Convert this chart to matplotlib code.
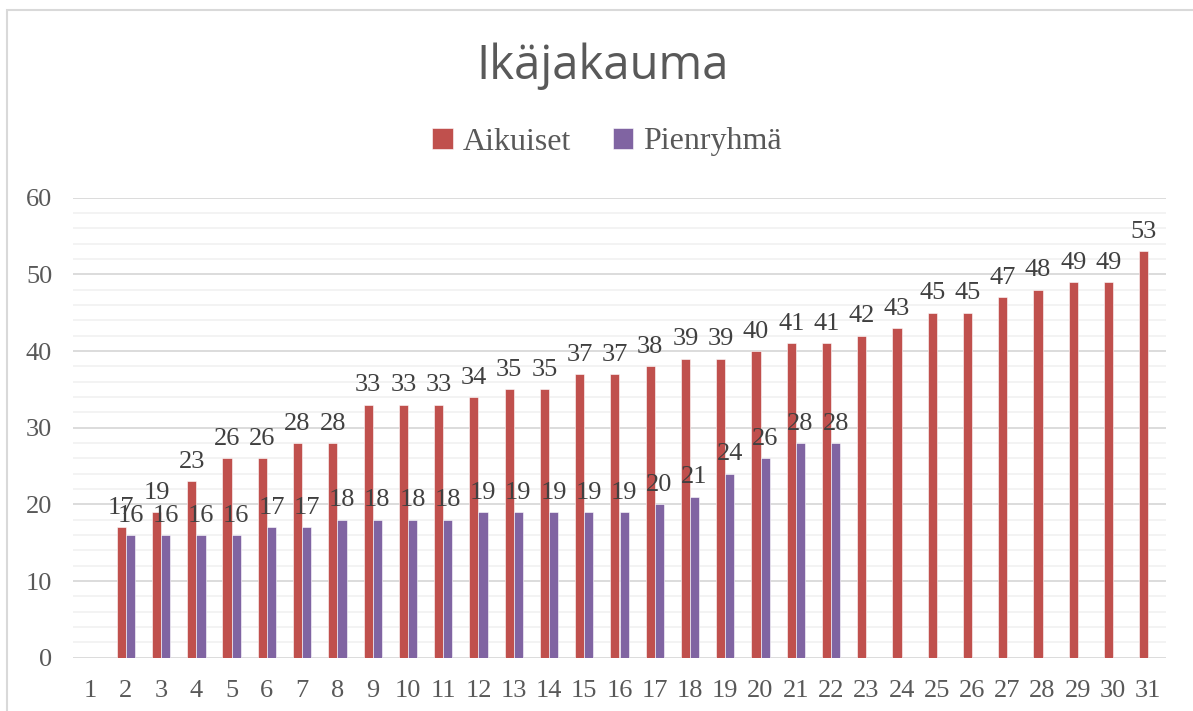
import numpy as np
import matplotlib
matplotlib.use('Agg')
import matplotlib.pyplot as plt
from matplotlib.patches import Rectangle

# categories 1..31, 1 has no data
categories = list(range(1, 32))
aikuiset = [None, 17, 19, 23, 26, 26, 28, 28, 33, 33, 33, 34, 35, 35, 37, 37, 38, 39, 39, 40,
            41, 41, 42, 43, 45, 45, 47, 48, 49, 49, 53]
pienryhma = [None, 16, 16, 16, 16, 17, 17, 18, 18, 18, 18, 19, 19, 19, 19, 19, 20, 21, 24, 26,
             28, 28] + [None] * 9
series_names = ['Aikuiset', 'Pienryhmä']
colors = ['#C0504D', '#8064A2']

serif = ['Liberation Serif', 'DejaVu Serif']
txt_col = '#595959'

fig = plt.figure(figsize=(11.93, 7.11), dpi=100)
ax = fig.add_axes([73 / 1193, 1 - 657.7 / 711, (1166 - 73) / 1193, (657.7 - 197.7) / 711])

x = np.array(categories, dtype=float)
w = 0.26
handles = []
for i, (vals, col) in enumerate(zip([aikuiset, pienryhma], colors)):
    off = (i - 0.5) * w
    xs = [xi + off for xi, v in zip(x, vals) if v is not None]
    ys = [v for v in vals if v is not None]
    b = ax.bar(xs, ys, width=w, color=col, edgecolor='#ffffff', linewidth=0.4, zorder=3,
               label=series_names[i])
    handles.append(b)
    for xi, yi in zip(xs, ys):
        ax.annotate(str(yi), (xi, yi), xytext=(0, 6), textcoords='offset points',
                    ha='center', va='bottom', fontsize=19, color='#404040',
                    family=serif, zorder=4)

ax.set_xlim(0.5, 31.5)
ax.set_ylim(0, 60)
ax.set_yticks(range(0, 61, 10))
ax.set_yticks(range(0, 61, 2), minor=True)
ax.set_xticks(categories)
ax.set_xticklabels([str(c) for c in categories])
ax.grid(axis='y', which='major', color='#d9d9d9', linewidth=1.3, zorder=0)
ax.grid(axis='y', which='minor', color='#f2f2f2', linewidth=1.3, zorder=0)
ax.tick_params(which='both', length=0)
ax.tick_params(axis='y', pad=15)
ax.tick_params(axis='x', pad=16)
for lab in ax.get_xticklabels() + ax.get_yticklabels():
    lab.set_family(serif)
    lab.set_fontsize(19)
    lab.set_color(txt_col)
for s in ax.spines.values():
    s.set_visible(False)

fig.text(603 / 1193, 1 - 66 / 711, 'Ikäjakauma', ha='center', va='center',
         fontsize=34, color=txt_col, family=['Open Sans', 'DejaVu Sans'])

leg = fig.legend(handles=handles, labels=series_names, loc='center',
                 bbox_to_anchor=(607 / 1193, 1 - 142 / 711), ncol=2, frameon=False,
                 prop={'family': serif, 'size': 23}, handlelength=0.65, handleheight=0.65,
                 handletextpad=0.3, columnspacing=1.3)
for t in leg.get_texts():
    t.set_color(txt_col)

# outer chart border (partly cut off at right/bottom)
fig.patches.append(Rectangle((7 / 1193, -0.1), 1.2, 1 - 10 / 711 + 0.1,
                             transform=fig.transFigure, fill=False,
                             edgecolor='#d9d9d9', linewidth=1.5, zorder=0))

fig.savefig('out.png', dpi=100)
